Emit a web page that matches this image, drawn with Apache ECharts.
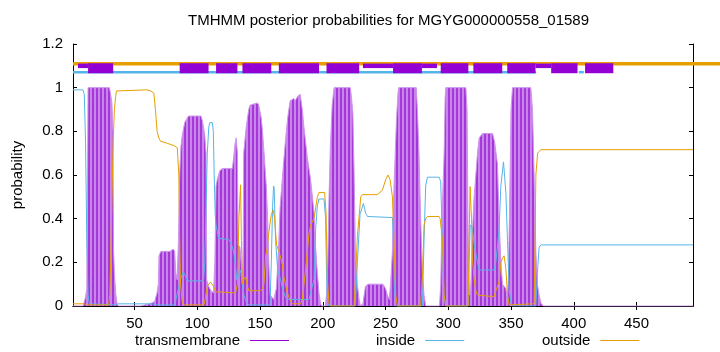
<!DOCTYPE html>
<html>
<head>
<meta charset="utf-8">
<style>
  html, body { margin: 0; padding: 0; background: #fff; }
  #tmhmm_plot { width: 720px; height: 352px; }
</style>
<script src="https://cdn.jsdelivr.net/npm/echarts@6/dist/echarts.min.js"></script>
</head>
<body>
<div id="tmhmm_plot"></div>
<script>
// posterior probabilities, [residue, probability]
var transmembrane = [
	[1, 0], [9, 0], [10, 0.02], [11, 0.04], [12, 0.08], [12.6, 0.6], [13, 1], [30, 1], [31, 0.97], [32, 0.93], [32.8, 0.8], [33.3, 0.26], [34, 0.15], [35, 0.06], [36, 0.01], [37, 0],
	[55, 0], [62, 0.01], [66, 0.02], [68, 0.06], [69, 0.1], [69.5, 0.23], [71, 0.25], [78, 0.25], [81, 0.26], [82, 0.25], [83, 0.15], [84, 0.12], [85, 0.3], [86, 0.6], [87, 0.73], [88, 0.78], [90, 0.84], [92, 0.86], [93, 0.87], [103, 0.87], [104, 0.85], [105, 0.82], [106, 0.78], [107, 0.7], [107.5, 0.12], [109, 0.09], [111, 0.07], [113, 0.06],
	[114, 0.2], [115, 0.55], [116, 0.58], [117, 0.6], [118, 0.62], [120, 0.63], [128, 0.63], [129, 0.68], [130, 0.74], [131, 0.77], [132, 0.7], [132.5, 0.28], [134, 0.27], [135, 0.2], [136, 0.1],
	[136.7, 0.3], [137, 0.7], [139, 0.82], [141, 0.9], [142, 0.92], [148, 0.93], [149, 0.92], [151, 0.86], [152, 0.8], [153, 0.72], [155, 0.55], [156, 0.42], [157, 0.2], [158, 0.05], [161, 0.03],
	[163, 0.08], [164, 0.18], [165, 0.3], [166, 0.45], [168, 0.6], [170, 0.74], [172, 0.86], [173, 0.9], [174, 0.94], [177, 0.95], [178, 0.94], [180, 0.96], [182, 0.97], [183.7, 0.9], [185, 0.82], [187.7, 0.68], [190.3, 0.58], [193, 0.43], [194.3, 0.27], [195.7, 0.15], [197, 0.06], [198.3, 0.01], [199, 0],
	[202, 0], [203, 0.05], [204, 0.2], [205, 0.5], [206, 0.72], [207.5, 0.92], [209, 1], [222, 1], [223, 0.95], [224, 0.88], [225, 0.6], [226, 0.25], [227.5, 0.1], [229, 0.03], [230, 0],
	[232, 0.01], [233, 0.05], [234, 0.09], [236, 0.1], [248, 0.1], [250, 0.08], [251.5, 0.05], [253, 0.03],
	[254, 0.1], [255.5, 0.25], [256.8, 0.55], [258.7, 0.85], [260, 0.98], [260.5, 1], [274.5, 1], [275.4, 0.9], [276.7, 0.7], [278, 0.4], [279.4, 0.15], [280.7, 0.05], [282, 0],
	[293, 0], [294, 0.1], [295, 0.4], [296.7, 0.7], [297.5, 0.95], [298, 1], [314, 1], [315, 0.9], [315.7, 0.4], [316.3, 0.15], [317, 0.05],
	[318, 0.1], [319, 0.3], [320.6, 0.5], [323.3, 0.7], [324.6, 0.77], [327.3, 0.79], [335.3, 0.79], [337, 0.75], [339.2, 0.65], [340.5, 0.4], [341.9, 0.2], [343.2, 0.1], [345.9, 0.08], [347.2, 0.03],
	[348, 0.15], [349, 0.5], [350, 0.9], [351.2, 1], [365.8, 1], [367.1, 0.9], [368.4, 0.6], [369.8, 0.25], [371, 0.1], [372.4, 0.05], [374, 0.01], [376, 0], [495, 0]
];

var inside = [
	[1, 0.99], [9, 0.99], [10, 0.97], [11, 0.75], [12, 0.3], [13, 0.05], [14, 0.01], [15, 0.005], [35, 0.005], [37, 0.01], [64, 0.01], [68, 0.005], [82, 0.005],
	[83, 0.03], [85, 0.08], [87, 0.13], [89, 0.157], [91, 0.13], [92, 0.115], [105, 0.115], [106, 0.2], [107, 0.45], [108, 0.7], [109.2, 0.82], [110, 0.84], [112, 0.84], [112.8, 0.8], [113.5, 0.6], [114.3, 0.42], [115, 0.37],
	[117, 0.31], [125, 0.305], [126.6, 0.29], [128, 0.27], [129.2, 0.24], [130.5, 0.18], [131.5, 0.12], [133, 0.12], [134.5, 0.165], [135.5, 0.12], [137.2, 0.05], [139, 0.02], [141, 0.005], [158, 0.005],
	[159, 0.2], [160, 0.45], [160.8, 0.55], [161.3, 0.54], [162.4, 0.3], [164, 0.17], [166.4, 0.12], [168, 0.08], [170.4, 0.04], [172, 0.03], [189, 0.03], [190.3, 0.06], [193, 0.12], [194.3, 0.35], [195.7, 0.46], [197, 0.49], [201, 0.49], [202.3, 0.4], [203, 0.15], [203.7, 0.02], [205, 0],
	[226, 0], [227.6, 0.2], [229.7, 0.42], [232.4, 0.47], [234.2, 0.425], [235.6, 0.41], [255.5, 0.405], [256.3, 0.3], [257, 0.1], [258.1, 0],
	[279.4, 0], [280.7, 0.3], [282, 0.55], [283.4, 0.59], [292.7, 0.59], [294, 0.57], [295.3, 0.3], [296.5, 0.05], [298, 0],
	[315.8, 0], [316.6, 0.2], [317.5, 0.37], [319, 0.36], [321, 0.27], [323.3, 0.2], [324.6, 0.165], [336.5, 0.165], [337.9, 0.2], [340.5, 0.35], [341.9, 0.55], [344, 0.66], [345.9, 0.52], [347.2, 0.3], [348.5, 0.08], [349.8, 0.02], [351, 0],
	[369.8, 0], [371, 0.15], [372.4, 0.27], [374, 0.28], [495, 0.28]
];

var outside = [
	[1, 0.01], [10, 0.01], [12, 0.005], [29.5, 0.005], [30.3, 0.05], [31, 0.2], [32, 0.5], [33, 0.75], [34, 0.9], [35, 0.96], [35.6, 0.985], [37, 0.99], [60, 0.99], [63, 0.985], [65.4, 0.975],
	[66.7, 0.9], [68, 0.8], [69.4, 0.77], [70.7, 0.755], [76.1, 0.745], [81.3, 0.735], [84.1, 0.725], [85.3, 0.6], [86, 0.3], [86.7, 0.1], [88, 0.02], [89.3, 0.005], [105.3, 0.005],
	[106.6, 0.04], [108, 0.09], [110.6, 0.11], [112, 0.11], [113, 0.09], [114.6, 0.065], [116, 0.06], [130.5, 0.06], [132, 0.1], [133.2, 0.4], [134.5, 0.555], [135.2, 0.3], [135.9, 0.1], [137, 0.12], [138.5, 0.134], [140, 0.09], [141.1, 0.07], [150.5, 0.07],
	[152, 0.08], [153.1, 0.1], [154.5, 0.23], [155.8, 0.27], [157.1, 0.34], [159, 0.42], [160.6, 0.44], [161.6, 0.4], [163.2, 0.28], [165.1, 0.25], [167.8, 0.19], [169.1, 0.13], [171.8, 0.06], [174.4, 0.02], [176, 0.01], [182.4, 0.01],
	[183.7, 0.03], [186.4, 0.17], [189, 0.33], [190.3, 0.37], [193, 0.4], [195.7, 0.5], [197, 0.52], [201.5, 0.52], [202.6, 0.43], [203.7, 0.12], [205, 0.01], [206, 0],
	[224.9, 0], [226.2, 0.14], [227.6, 0.32], [230.3, 0.5], [231.6, 0.51], [243.5, 0.51], [247.5, 0.53], [250.2, 0.58], [252, 0.6], [253.6, 0.58], [255.5, 0.5], [256.8, 0.29], [258.1, 0.05], [259.5, 0],
	[278, 0], [279.4, 0.13], [280.7, 0.37], [282, 0.4], [283.4, 0.41], [292.7, 0.41], [293.5, 0.4], [295.4, 0.3], [296.7, 0.05], [298, 0],
	[315.8, 0], [316.6, 0.3], [317.4, 0.547], [318.5, 0.4], [319.3, 0.21], [320.6, 0.12], [322, 0.07], [323.3, 0.05], [324.6, 0.043], [336.5, 0.043],
	[337.9, 0.07], [340.5, 0.11], [342, 0.2], [343.2, 0.22], [344.5, 0.23], [345.9, 0.17], [347.2, 0.05], [348.5, 0.005], [368.4, 0.01],
	[369.2, 0.3], [369.8, 0.6], [371.2, 0.7], [373.8, 0.716], [495, 0.716]
];

// predicted topology strip above the curves, [from, to] residue
var stripOutside = [[1, 517]];
var stripInside = [[1, 370], [404, 408]];
var stripHelix = [[13, 33], [86, 109], [115, 132], [136, 159], [165, 197], [203, 229], [256, 279], [294, 316], [320, 343], [347, 369.5], [382, 403], [409, 431.5]];
var stripHelixThin = [[5, 13], [232, 256], [279, 291], [369.5, 382]];

var xTicks = [50, 100, 150, 200, 250, 300, 350, 400, 450];
var legendNames = ['transmembrane', 'inside', 'outside'];

function tmhmmPlot() {

	var FONT = 'Liberation Sans, Arial, sans-serif';
	var PURPLE = '#9400d3';
	var BLUE = '#56b4e9';
	var ORANGE = '#e69f00';

	// impulses at ~1.25px per residue give the striped look
	var stripe = document.createElement('canvas');
	stripe.width = 4;
	stripe.height = 1;
	var ctx = stripe.getContext('2d');
	ctx.fillStyle = '#a538d8';
	ctx.fillRect(0, 0, 2, 1);
	ctx.fillStyle = '#c985e9';
	ctx.fillRect(2, 0, 2, 1);

	function strip(level, height, color) {
		return function(params, api) {
			var a = api.coord([api.value(0), level]);
			var b = api.coord([api.value(1), level]);
			return {
				type: 'rect',
				shape: { x: a[0], y: a[1] - height / 2, width: b[0] - a[0], height: height },
				style: { fill: color }
			};
		};
	}

	function legendAt(left, name, color) {
		return {
			left: left,
			top: 333,
			padding: 0,
			align: 'right',
			icon: 'rect',
			itemWidth: 39,
			itemHeight: 1,
			itemGap: 0,
			selectedMode: false,
			textStyle: { fontFamily: FONT, fontSize: 15, color: '#000', padding: [0, 5, 0, 0] },
			data: [{
				name: name,
				itemStyle: { color: color, borderWidth: 0, opacity: 1 },
				lineStyle: { color: color, width: 1, opacity: 1 }
			}]
		};
	}

	var chart = echarts.init(document.getElementById('tmhmm_plot'));
	var option = {
		animation: false,
		backgroundColor: '#fff',
		title: {
			text: 'TMHMM posterior probabilities for MGYG000000558_01589',
			left: 183,
			top: 8,
			textStyle: { fontFamily: FONT, fontSize: 15, fontWeight: 'normal', color: '#000' }
		},
		legend: [
			legendAt(135, legendNames[0], PURPLE),
			legendAt(376, legendNames[1], BLUE),
			legendAt(542, legendNames[2], ORANGE)
		],
		grid: { left: 73, right: 27, top: 44, bottom: 46 },
		xAxis: [{
			type: 'value',
			min: 1,
			max: 495,
			axisLine: { lineStyle: { color: '#000' } },
			axisTick: { inside: true, length: 4, customValues: xTicks, lineStyle: { color: '#000' } },
			axisLabel: { customValues: xTicks, margin: 10, fontFamily: FONT, fontSize: 15, color: '#000' },
			splitLine: { show: false }
		}, {
			type: 'value',
			position: 'top',
			min: 1,
			max: 495,
			axisLine: { lineStyle: { color: '#000' } },
			axisTick: { inside: true, length: 4, customValues: xTicks, lineStyle: { color: '#000' } },
			axisLabel: { show: false },
			splitLine: { show: false }
		}],
		yAxis: [{
			type: 'value',
			min: 0,
			max: 1.2,
			interval: 0.2,
			name: 'probability',
			nameLocation: 'middle',
			nameGap: 48,
			nameTextStyle: { fontFamily: FONT, fontSize: 15, color: '#000' },
			axisLine: { show: true, lineStyle: { color: '#000' } },
			axisTick: { show: true, inside: true, length: 4, lineStyle: { color: '#000' } },
			axisLabel: { margin: 10, fontFamily: FONT, fontSize: 15, color: '#000' },
			splitLine: { show: false }
		}, {
			type: 'value',
			position: 'right',
			min: 0,
			max: 1.2,
			interval: 0.2,
			axisLine: { show: true, lineStyle: { color: '#000' } },
			axisTick: { show: true, inside: true, length: 4, lineStyle: { color: '#000' } },
			axisLabel: { show: false },
			splitLine: { show: false }
		}],
		series: [{
			name: 'transmembrane',
			type: 'line',
			data: transmembrane,
			showSymbol: false,
			z: 2,
			lineStyle: { width: 1, color: '#cf95ec' },
			itemStyle: { color: '#a63ad8' },
			areaStyle: { color: { image: stripe, repeat: 'repeat' }, opacity: 1 }
		}, {
			name: 'inside',
			type: 'line',
			data: inside,
			showSymbol: false,
			z: 3,
			lineStyle: { width: 1, color: BLUE },
			itemStyle: { color: BLUE }
		}, {
			name: 'outside',
			type: 'line',
			data: outside,
			showSymbol: false,
			z: 4,
			lineStyle: { width: 1, color: ORANGE },
			itemStyle: { color: ORANGE }
		}, {
			name: 'strip-outside',
			type: 'custom',
			clip: false,
			z: 5,
			renderItem: strip(1.11, 3.5, ORANGE),
			data: stripOutside
		}, {
			name: 'strip-inside',
			type: 'custom',
			z: 6,
			renderItem: strip(1.071, 2.5, BLUE),
			data: stripInside
		}, {
			name: 'strip-helix-thin',
			type: 'custom',
			z: 7,
			renderItem: strip(1.1, 4.5, PURPLE),
			data: stripHelixThin
		}, {
			name: 'strip-helix',
			type: 'custom',
			z: 8,
			renderItem: strip(1.089, 10, PURPLE),
			data: stripHelix
		}]
	};
	chart.setOption(option);
}

tmhmmPlot();
</script>
</body>
</html>
